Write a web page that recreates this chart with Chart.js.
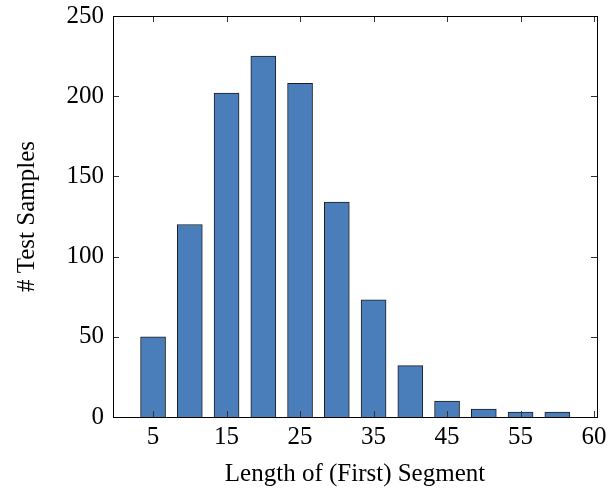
<!DOCTYPE html>
<html>
<head>
<meta charset="utf-8">
<script src="https://cdn.jsdelivr.net/npm/chart.js@4/dist/chart.umd.min.js"></script>
<style>
  html, body { margin: 0; padding: 0; background: #fff; }
  #wrap { width: 616px; height: 489px; }
</style>
</head>
<body>
<div id="wrap"><canvas id="seg-chart"></canvas></div>
<script>
// segment length bins and how many test samples fall in each
let segLengths = [5, 10, 15, 20, 25, 30, 35, 40, 45, 50, 55, 60];
let sampleCounts = [50, 120, 202, 225, 208, 134, 73, 32, 10, 5, 3, 3];

// x ticks as drawn in the original (last one sits at the right edge)
let xTickValues = [5, 15, 25, 35, 45, 55, 65];
let xTickLabels = ["5", "15", "25", "35", "45", "55", "60"];
let yTickValues = [0, 50, 100, 150, 200, 250];

let serif = "'Liberation Serif', 'DejaVu Serif', serif";

let chartData = [];
segLengths.forEach((x, i) => chartData.push({x: x, y: sampleCounts[i]}));

// box around the plot plus little inward tick marks on all four sides
const frameTicks = {
    id: 'frameTicks',
    afterDraw(chart) {
        let ctx = chart.ctx;
        let a = chart.chartArea;
        let xs = chart.scales.x;
        let ys = chart.scales.y;
        ctx.save();
        ctx.strokeStyle = '#333';
        ctx.lineWidth = 1;
        xTickValues.forEach(v => {
            let px = Math.round(xs.getPixelForValue(v)) + 0.5;
            ctx.beginPath();
            ctx.moveTo(px, a.bottom); ctx.lineTo(px, a.bottom - 6);
            ctx.moveTo(px, a.top); ctx.lineTo(px, a.top + 6);
            ctx.stroke();
        });
        yTickValues.forEach(v => {
            let py = Math.round(ys.getPixelForValue(v)) + 0.5;
            ctx.beginPath();
            ctx.moveTo(a.left, py); ctx.lineTo(a.left + 6, py);
            ctx.moveTo(a.right, py); ctx.lineTo(a.right - 6, py);
            ctx.stroke();
        });
        ctx.strokeStyle = '#000';
        ctx.strokeRect(Math.round(a.left) + 0.5, Math.round(a.top) + 0.5,
            Math.round(a.right - a.left), Math.round(a.bottom - a.top));
        ctx.restore();
    }
};

const ctx = document.getElementById('seg-chart').getContext('2d');
let myChart = new Chart(ctx, {
    type: 'bar',
    data: {
        datasets: [{
            label: '# Test Samples',
            data: chartData,
            backgroundColor: 'rgba(74, 126, 187, 1)',
            borderColor: 'rgba(30, 30, 30, 1)',
            borderWidth: 1,
            barThickness: 25
        }]
    },
    options: {
        responsive: true,
        maintainAspectRatio: false,
        animation: false,
        layout: { padding: { top: 16, right: 19, left: 0, bottom: 0 } },
        plugins: {
            legend: { display: false },
            tooltip: { enabled: false }
        },
        scales: {
            x: {
                type: 'linear',
                offset: false,
                min: -0.45,
                max: 65.4,
                afterBuildTicks: scale => {
                    scale.ticks = xTickValues.map(v => ({value: v}));
                },
                afterFit: scale => { scale.height = 72; },
                ticks: {
                    autoSkip: false,
                    maxRotation: 0,
                    padding: 5,
                    color: '#000',
                    font: { family: serif, size: 25 },
                    callback: (v, i) => xTickLabels[i]
                },
                grid: { display: false, drawTicks: false },
                border: { display: false },
                title: {
                    display: true,
                    text: 'Length of (First) Segment',
                    color: '#000',
                    font: { family: serif, size: 25 },
                    padding: { top: 3, bottom: 0 }
                }
            },
            y: {
                min: 0,
                max: 250,
                afterBuildTicks: scale => {
                    scale.ticks = yTickValues.map(v => ({value: v}));
                },
                afterFit: scale => {
                    scale.width = 113;
                    scale.paddingTop = 0;
                    scale.paddingBottom = 0;
                },
                ticks: {
                    padding: 9,
                    color: '#000',
                    font: { family: serif, size: 25 }
                },
                grid: { display: false, drawTicks: false },
                border: { display: false },
                title: {
                    display: true,
                    text: '# Test Samples',
                    color: '#000',
                    font: { family: serif, size: 25 },
                    padding: { top: 12, bottom: 0 }
                }
            }
        }
    },
    plugins: [frameTicks]
});
</script>
</body>
</html>
